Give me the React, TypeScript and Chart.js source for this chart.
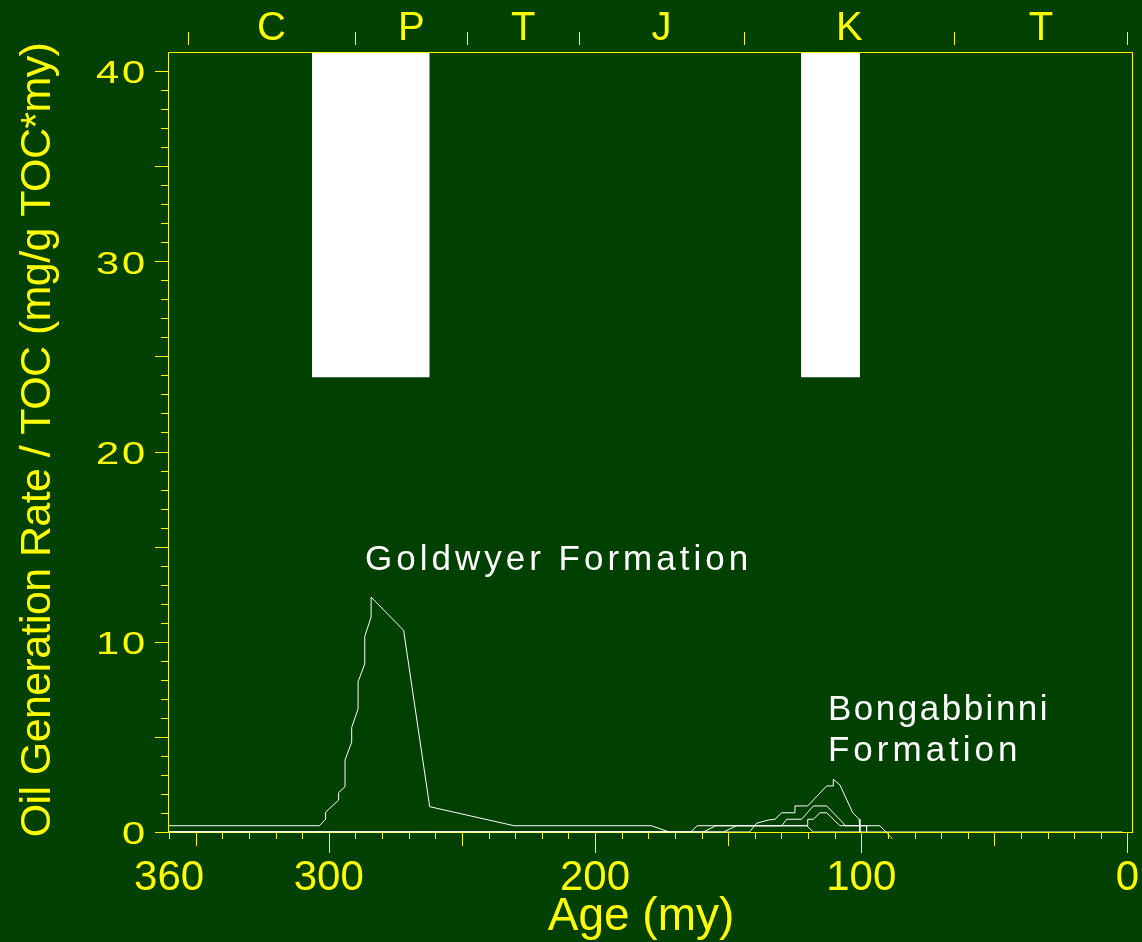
import React, { useEffect, useRef } from "react";
import { Chart, registerables } from "chart.js";

Chart.register(...registerables);

const BG = "#004000";
const YELLOW = "#ffff00";
const WHITE = "#ffffff";
const FONT = '"Liberation Sans", Arial, sans-serif';

// Axis labels
const xTickLabels = [360, 300, 200, 100, 0];
const yTickLabels = [0, 10, 20, 30, 40];

// Geologic periods (top axis)
const periodBounds = [353, 290, 248, 206, 144, 65, 0];
const periodNames = ["C", "P", "T", "J", "K", "T"];

// Goldwyer Formation
const goldwyerAge = [360, 303.5, 301.2, 301.2, 296.3, 296.3, 293.9, 293.9, 291.4, 291.4, 289.0, 289.0, 286.5, 286.5, 284.1, 284.1, 271.9, 262.1, 230.4, 178.8, 172.2];
const goldwyerRate = [0.33, 0.33, 0.67, 1.04, 1.68, 2.07, 2.38, 3.79, 4.72, 5.5, 6.47, 7.9, 8.83, 10.28, 11.3, 12.35, 10.6, 1.33, 0.33, 0.33, 0];

// Bongabbinni Formation (several wells)
const bong1Age = [360, 164.1, 161.6, 120.5, 118.0, 2];
const bong1Rate = [0, 0, 0.33, 0.33, 0, 0];

const bong2Age = [360, 142.0, 139.3, 134.9, 132.4, 129.9, 124.9, 124.9, 120.1, 113.0, 110.5, 110.5, 108.0, 103.2, 100.8, 100.5, 100.5];
const bong2Rate = [0, 0, 0.46, 0.63, 0.67, 1.01, 1.01, 1.37, 1.37, 2.42, 2.42, 2.77, 2.47, 1.01, 0.67, 0.33, 0];

const bong3Age = [360, 159.3, 154.6, 129.9, 128.0, 122.4, 118.0, 113.0, 106.7, 106.1, 98.0, 98.0];
const bong3Rate = [0, 0, 0.33, 0.33, 0.67, 0.67, 1.37, 1.37, 0.46, 0.33, 0.33, 0];

const bong4Age = [360, 151.8, 146.8, 120.1, 120.1, 118.0, 115.5, 113.0, 108.0, 93.0, 90.7, 88.3];
const bong4Rate = [0, 0, 0.33, 0.33, 0.67, 0.67, 1.01, 1.01, 0.33, 0.33, 0, -0.36];

// White windows
const windowStart = [306.3, 122.6];
const windowEnd = [262.1, 100.5];
const windowBase = [23.9, 23.9];

// Annotation texts (anchored in data coordinates)
const noteText = ["Goldwyer Formation", "Bongabbinni", "Formation"];
const noteAge = [286.4, 112.5, 112.5];
const noteRate = [13.77, 5.89, 3.73];
const noteSpacing = ["4px", "2.5px", "4px"];

const yTitle = "Oil Generation Rate / TOC (mg/g TOC*my)";
const xTitle = "Age (my)";

const toPoints = (xs: number[], ys: number[]) => xs.map((x, i) => ({ x, y: ys[i] }));

const line = (xs: number[], ys: number[], extra: any = {}) => ({
  type: "line" as const,
  data: toPoints(xs, ys),
  borderColor: WHITE,
  borderWidth: 1,
  pointRadius: 0,
  fill: false,
  tension: 0,
  ...extra,
});

const decor = {
  id: "decor",
  beforeDraw(chart: any) {
    const ctx = chart.ctx;
    ctx.save();
    ctx.fillStyle = BG;
    ctx.fillRect(0, 0, chart.width, chart.height);
    ctx.restore();
  },
  beforeDatasetsDraw(chart: any) {
    const { ctx, chartArea: a } = chart;
    ctx.save();
    ctx.strokeStyle = YELLOW;
    ctx.lineWidth = 1;
    ctx.beginPath();
    ctx.moveTo(a.left, a.bottom + 0.5);
    ctx.lineTo(a.right, a.bottom + 0.5);
    ctx.stroke();
    ctx.restore();
  },
  afterDatasetsDraw(chart: any) {
    const { ctx, chartArea: a } = chart;
    ctx.save();
    ctx.strokeStyle = YELLOW;
    ctx.lineWidth = 1;
    ctx.beginPath();
    ctx.moveTo(a.left + 0.5, a.bottom);
    ctx.lineTo(a.left + 0.5, a.top + 0.5);
    ctx.lineTo(a.right - 0.5, a.top + 0.5);
    ctx.lineTo(a.right - 0.5, a.bottom);
    ctx.stroke();
    ctx.restore();
  },
  afterDraw(chart: any) {
    const { ctx, chartArea: a } = chart;
    const xs = chart.scales.x;
    const ys = chart.scales.y;
    ctx.save();
    ctx.strokeStyle = YELLOW;
    ctx.fillStyle = YELLOW;
    ctx.lineWidth = 1;

    // y ticks
    for (let v = 0; v <= 40; v += 1) {
      const py = Math.round(ys.getPixelForValue(v)) + 0.5;
      const len = v % 5 === 0 ? 13 : 7;
      ctx.beginPath();
      ctx.moveTo(a.left - len, py);
      ctx.lineTo(a.left, py);
      ctx.stroke();
    }
    // x ticks
    for (let v = 0; v <= 360; v += 10) {
      const px = Math.round(xs.getPixelForValue(v)) + 0.5;
      const len = v % 100 === 0 ? 21 : v % 50 === 0 ? 14 : 7;
      ctx.beginPath();
      ctx.moveTo(px, a.bottom);
      ctx.lineTo(px, a.bottom + len);
      ctx.stroke();
    }
    // top period ticks
    for (const b of periodBounds) {
      const px = Math.round(xs.getPixelForValue(b)) + 0.5;
      ctx.beginPath();
      ctx.moveTo(px, a.top - 20);
      ctx.lineTo(px, a.top - 7);
      ctx.stroke();
    }
    // period names
    ctx.font = `40px ${FONT}`;
    ctx.textAlign = "center";
    ctx.textBaseline = "alphabetic";
    periodNames.forEach((n, i) => {
      const mid = (periodBounds[i] + periodBounds[i + 1]) / 2;
      ctx.fillText(n, xs.getPixelForValue(mid), a.top - 12);
    });

    // y tick labels (wide lettering)
    for (const v of yTickLabels) {
      const py = ys.getPixelForValue(v);
      ctx.save();
      ctx.translate(148, py + 12.4);
      ctx.scale(1.3, 1);
      ctx.font = `32px ${FONT}`;
      (ctx as any).letterSpacing = "2.2px";
      ctx.textAlign = "right";
      ctx.fillText(String(v), 0, 0);
      ctx.restore();
    }

    // y title
    ctx.save();
    ctx.translate(50, 440);
    ctx.rotate(-Math.PI / 2);
    ctx.font = `43px ${FONT}`;
    (ctx as any).letterSpacing = "-0.6px";
    ctx.textAlign = "center";
    ctx.fillText(yTitle, 0, 0);
    ctx.restore();

    // x title
    ctx.font = `46px ${FONT}`;
    ctx.textAlign = "center";
    ctx.fillText(xTitle, 641, 930);

    // annotations
    ctx.fillStyle = WHITE;
    ctx.font = `35px ${FONT}`;
    ctx.textAlign = "left";
    noteText.forEach((t, i) => {
      (ctx as any).letterSpacing = noteSpacing[i];
      ctx.fillText(t, xs.getPixelForValue(noteAge[i]), ys.getPixelForValue(noteRate[i]));
    });
    ctx.restore();
  },
};

export default function App() {
  const ref = useRef<HTMLCanvasElement | null>(null);

  useEffect(() => {
    const canvas = ref.current;
    if (!canvas) return;
    Chart.defaults.font.family = FONT;

    const windows = windowStart.map((s, i) => ({
      type: "line" as const,
      data: [
        { x: s, y: windowBase[i] },
        { x: windowEnd[i], y: windowBase[i] },
      ],
      borderWidth: 0,
      borderColor: "rgba(0,0,0,0)",
      backgroundColor: WHITE,
      pointRadius: 0,
      fill: "end",
      tension: 0,
    }));

    const chart = new Chart(canvas, {
      type: "line",
      data: {
        datasets: [
          line(goldwyerAge, goldwyerRate),
          line(bong1Age, bong1Rate),
          line(bong2Age, bong2Rate),
          line(bong3Age, bong3Rate),
          line(bong4Age, bong4Rate, {
            clip: false,
            segment: {
              borderColor: (c: any) => (c.p1.parsed.y < 0 ? YELLOW : WHITE),
            },
          }),
          ...windows,
        ] as any,
      },
      options: {
        responsive: false,
        animation: false,
        events: [],
        layout: { padding: { top: 52, right: 9, left: 0, bottom: 0 } },
        plugins: {
          legend: { display: false },
          tooltip: { enabled: false },
          title: { display: false },
        },
        elements: { point: { radius: 0 }, line: { tension: 0, borderWidth: 1 } },
        scales: {
          x: {
            type: "linear",
            position: "bottom",
            reverse: true,
            min: -2.07,
            max: 360.4,
            grid: { display: false, drawTicks: false },
            border: { display: false },
            afterBuildTicks: (s: any) => {
              s.ticks = xTickLabels.map((v) => ({ value: v }));
            },
            afterFit: (s: any) => {
              s.height = 110;
            },
            ticks: {
              color: YELLOW,
              font: { family: FONT, size: 42, lineHeight: 2.2 },
              padding: 0,
              autoSkip: false,
              maxRotation: 0,
              minRotation: 0,
              callback: (v: any) => String(v),
            },
          },
          y: {
            type: "linear",
            min: 0,
            max: 41,
            grid: { display: false, drawTicks: false },
            border: { display: false },
            ticks: { display: false },
            afterFit: (s: any) => {
              s.width = 168;
            },
          },
        },
      } as any,
      plugins: [decor],
    });

    return () => chart.destroy();
  }, []);

  return (
    <div style={{ position: "fixed", left: 0, top: 0, width: 1142, height: 942, background: BG }}>
      <canvas ref={ref} width={1142} height={942} style={{ display: "block", width: 1142, height: 942 }} />
    </div>
  );
}
